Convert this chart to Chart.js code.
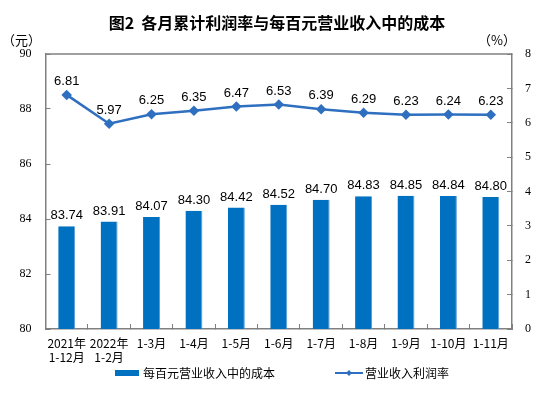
<!DOCTYPE html>
<html>
<head>
<meta charset="utf-8">
<script src="https://cdn.jsdelivr.net/npm/chart.js@4/dist/chart.umd.min.js"></script>
<style>
  html, body { margin: 0; padding: 0; background: #fff; }
  #wrap { width: 554px; height: 397px; position: relative; }
</style>
</head>
<body>
<div id="wrap"><canvas id="myChart" width="554" height="397"></canvas></div>
<script>
// data
const categories = [
    ['2021年', '1-12月'], ['2022年', '1-2月'], '1-3月', '1-4月', '1-5月', '1-6月',
    '1-7月', '1-8月', '1-9月', '1-10月', '1-11月'
];
const costPerHundred = [83.74, 83.91, 84.07, 84.30, 84.42, 84.52, 84.70, 84.83, 84.85, 84.84, 84.80];
const profitRate = [6.81, 5.97, 6.25, 6.35, 6.47, 6.53, 6.39, 6.29, 6.23, 6.24, 6.23];
const leftTicks = [80, 82, 84, 86, 88, 90];
const rightTicks = [0, 1, 2, 3, 4, 5, 6, 7, 8];

const titleText = '图2  各月累计利润率与每百元营业收入中的成本';
const barLabel = '每百元营业收入中的成本';
const lineLabel = '营业收入利润率';

const barColor = '#0070C0';
const lineColor = '#2E6FC0';
const cjkFont = '"Noto Sans CJK SC", "Noto Sans", sans-serif';
const serifFont = '"Liberation Serif", "DejaVu Serif", serif';
const numFont = '"Liberation Sans", Arial, sans-serif';

// value labels, units, title and legend drawn on the canvas
const extrasPlugin = {
    id: 'extras',
    afterDatasetsDraw(chart) {
        const ctx = chart.ctx;
        ctx.save();
        ctx.fillStyle = '#000';
        ctx.font = '13px ' + numFont;
        ctx.textAlign = 'center';
        ctx.textBaseline = 'bottom';
        chart.getDatasetMeta(0).data.forEach((bar, i) => {
            ctx.fillText(costPerHundred[i].toFixed(2), bar.x, bar.y - 4);
        });
        chart.getDatasetMeta(1).data.forEach((pt, i) => {
            ctx.fillText(profitRate[i].toFixed(2), pt.x, pt.y - 7);
        });
        ctx.restore();
    },
    afterDraw(chart) {
        const ctx = chart.ctx;
        const area = chart.chartArea;
        ctx.save();

        // top edge of the plot frame
        ctx.strokeStyle = '#808080';
        ctx.lineWidth = 1.5;
        ctx.beginPath();
        ctx.moveTo(area.left, area.top);
        ctx.lineTo(area.right, area.top);
        ctx.stroke();

        ctx.fillStyle = '#000';
        ctx.textBaseline = 'middle';

        // title
        ctx.font = 'bold 16px ' + cjkFont;
        ctx.textAlign = 'center';
        ctx.fillText(titleText, 277, 23);

        // units
        ctx.font = '13px ' + cjkFont;
        ctx.textAlign = 'left';
        ctx.fillText('（元）', 2, 40);
        ctx.fillText('（%）', 478, 40);

        // legend
        ctx.font = '12px ' + cjkFont;
        ctx.fillStyle = barColor;
        ctx.fillRect(115, 370, 24, 6);
        ctx.fillStyle = '#000';
        ctx.fillText(barLabel, 143, 373);

        ctx.strokeStyle = lineColor;
        ctx.lineWidth = 2;
        ctx.beginPath();
        ctx.moveTo(335, 373);
        ctx.lineTo(363, 373);
        ctx.stroke();
        ctx.fillStyle = lineColor;
        ctx.beginPath();
        ctx.moveTo(349, 370);
        ctx.lineTo(352, 373);
        ctx.lineTo(349, 376);
        ctx.lineTo(346, 373);
        ctx.closePath();
        ctx.fill();
        ctx.fillStyle = '#000';
        ctx.fillText(lineLabel, 365, 373);
        ctx.restore();
    }
};

const data = {
    labels: categories,
    datasets: [
        {
            type: 'bar',
            label: barLabel,
            data: costPerHundred,
            yAxisID: 'y',
            backgroundColor: barColor,
            borderColor: '#5B9BD5',
            borderWidth: { right: 1 },
            barPercentage: 0.4,
            categoryPercentage: 1,
            order: 1
        },
        {
            type: 'line',
            label: lineLabel,
            data: profitRate,
            yAxisID: 'y1',
            borderColor: lineColor,
            backgroundColor: lineColor,
            borderWidth: 2.5,
            pointStyle: 'rectRot',
            pointRadius: 3.5,
            pointHoverRadius: 3.5,
            tension: 0,
            order: 0
        }
    ]
};

const config = {
    data,
    options: {
        responsive: false,
        animation: false,
        layout: { padding: { top: 54, left: 0, right: 0, bottom: 0 } },
        plugins: {
            legend: { display: false },
            title: { display: false },
            tooltip: { enabled: false }
        },
        scales: {
            x: {
                grid: {
                    display: true,
                    drawOnChartArea: false,
                    offset: true,
                    tickLength: -5,
                    color: '#808080'
                },
                border: { color: '#808080', width: 1.5 },
                ticks: {
                    color: '#000',
                    font: { family: cjkFont, size: 12 },
                    maxRotation: 0,
                    autoSkip: false,
                    padding: 12
                },
                afterFit(scale) { scale.height = 68; }
            },
            y: {
                position: 'left',
                min: 80,
                max: 90,
                afterBuildTicks(scale) { scale.ticks = leftTicks.map(v => ({ value: v })); },
                grid: { drawOnChartArea: false, tickLength: -5, color: '#808080' },
                border: { color: '#808080', width: 1.5 },
                ticks: {
                    color: '#000',
                    font: { family: serifFont, size: 12 },
                    padding: 19
                },
                afterFit(scale) { scale.width = 45.5; }
            },
            y1: {
                position: 'right',
                min: 0,
                max: 8,
                afterBuildTicks(scale) { scale.ticks = rightTicks.map(v => ({ value: v })); },
                grid: { drawOnChartArea: false, tickLength: -5, color: '#808080' },
                border: { color: '#808080', width: 1.5 },
                ticks: {
                    color: '#000',
                    font: { family: serifFont, size: 12 },
                    padding: 18
                },
                afterFit(scale) { scale.width = 42; }
            }
        }
    },
    plugins: [extrasPlugin]
};

const myChart = new Chart(document.getElementById('myChart'), config);
</script>
</body>
</html>
